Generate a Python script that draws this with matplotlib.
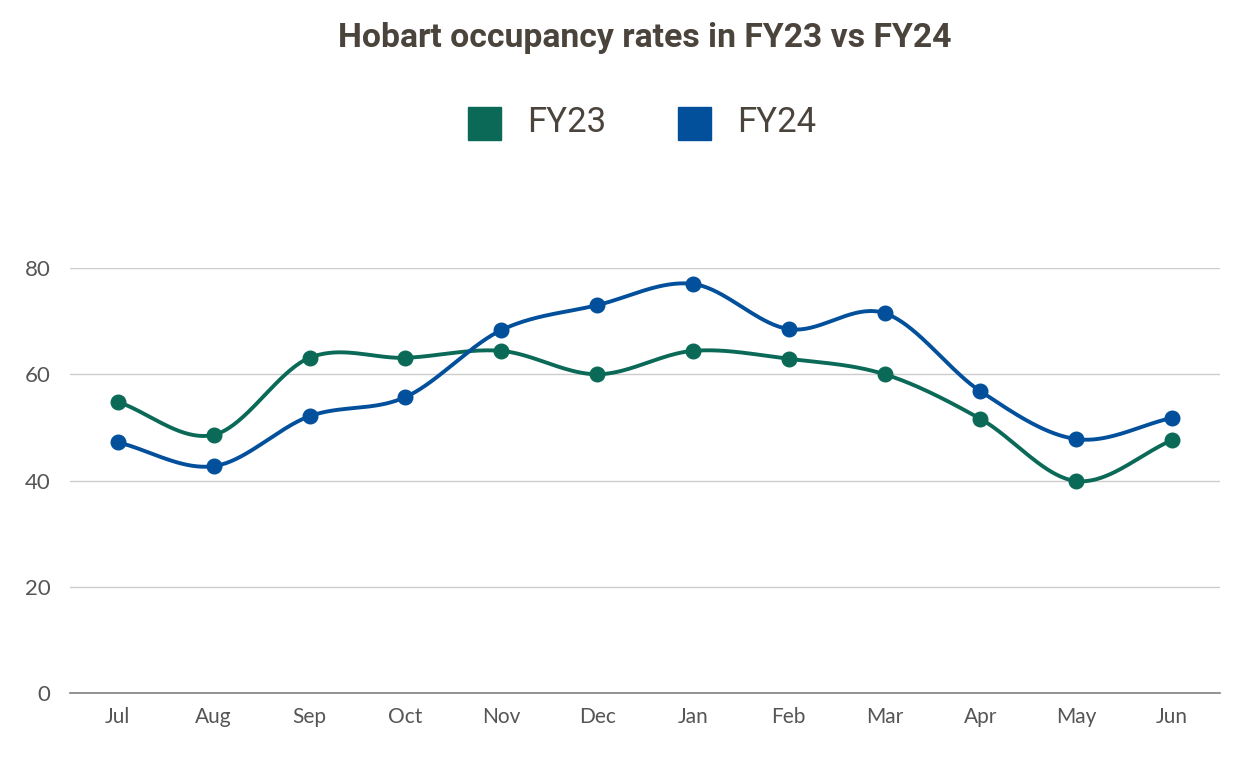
import numpy as np
import matplotlib.pyplot as plt
from matplotlib.patches import Rectangle

months = ['Jul', 'Aug', 'Sep', 'Oct', 'Nov', 'Dec', 'Jan', 'Feb', 'Mar', 'Apr', 'May', 'Jun']
fy23 = [54.8, 48.6, 63.1, 63.1, 64.4, 60.0, 64.4, 62.9, 60.0, 51.6, 39.9, 47.6]
fy24 = [47.2, 42.7, 52.1, 55.7, 68.3, 73.0, 77.0, 68.5, 71.5, 56.8, 47.8, 51.8]

green = '#0b6a57'
blue = '#024f9b'
txt = '#4b443c'


def catmull(x, y, n=40):
    # smooth curve through the points (catmull-rom, drawn as the line only)
    x = np.asarray(x, float)
    y = np.asarray(y, float)
    px = np.concatenate([[2 * x[0] - x[1]], x, [2 * x[-1] - x[-2]]])
    py = np.concatenate([[2 * y[0] - y[1]], y, [2 * y[-1] - y[-2]]])
    xs, ys = [], []
    t = np.linspace(0, 1, n)
    for i in range(1, len(px) - 2):
        p0, p1, p2, p3 = [np.array([px[j], py[j]]) for j in range(i - 1, i + 3)]
        c1 = p1 + (p2 - p0) / 6
        c2 = p2 - (p3 - p1) / 6
        b = ((1 - t) ** 3)[:, None] * p1 + (3 * (1 - t) ** 2 * t)[:, None] * c1 \
            + (3 * (1 - t) * t ** 2)[:, None] * c2 + (t ** 3)[:, None] * p2
        xs.extend(b[:, 0])
        ys.extend(b[:, 1])
    return xs, ys


fig = plt.figure(figsize=(12.4, 7.62), dpi=100)
ax = fig.add_axes([70 / 1240, 1 - 693 / 762, 1150 / 1240, 425 / 762])

xpos = np.arange(len(months))
for vals, col in [(fy23, green), (fy24, blue)]:
    sx, sy = catmull(xpos, vals)
    ax.plot(sx, sy, color=col, linewidth=2.8, clip_on=False, zorder=3,
            solid_capstyle='round')
    ax.plot(xpos, vals, 'o', color=col, markersize=10.5, clip_on=False, zorder=4)

ax.set_xlim(-0.5, 11.5)
ax.set_ylim(0, 80)
ax.set_yticks([0, 20, 40, 60, 80])
ax.set_xticks(xpos)
ax.set_xticklabels(months)
ax.grid(axis='y', color='#cccccc', linewidth=1)
ax.set_axisbelow(True)
for s in ['top', 'right', 'left']:
    ax.spines[s].set_visible(False)
ax.spines['bottom'].set_color('#808080')
ax.spines['bottom'].set_linewidth(1.2)
ax.tick_params(axis='both', length=0, labelsize=15, labelcolor='#555555',
               pad=10)
ax.tick_params(axis='y', pad=14, labelsize=16)
for lab in ax.get_xticklabels() + ax.get_yticklabels():
    lab.set_fontfamily('Lato')

fig.text(645 / 1240, 1 - 38 / 762, 'Hobart occupancy rates in FY23 vs FY24',
         ha='center', va='center', fontsize=24.3, fontweight='bold',
         color=txt, family='Roboto')

# legend
for x0, col, name in [(468, green, 'FY23'), (678, blue, 'FY24')]:
    fig.patches.append(Rectangle((x0 / 1240, 1 - 140 / 762), 33 / 1240, 33 / 762,
                                 transform=fig.transFigure, color=col))
    fig.text((x0 + 59) / 1240, 1 - 122 / 762, name, ha='left', va='center',
             fontsize=25, color=txt, family='Roboto')

fig.savefig('out.png', dpi=100)
